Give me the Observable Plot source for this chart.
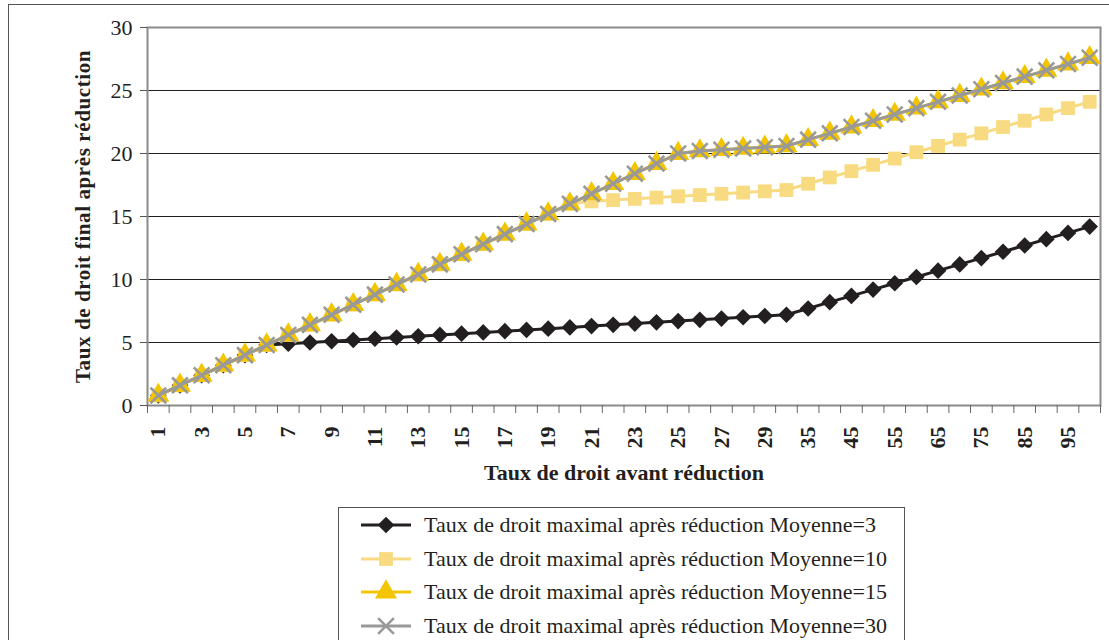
<!DOCTYPE html>
<html><head><meta charset="utf-8">
<script src="https://cdn.jsdelivr.net/npm/d3@7"></script>
<script src="https://cdn.jsdelivr.net/npm/@observablehq/plot@0.6"></script>
<style>
body{margin:0;background:#fff;font-family:"Liberation Serif",serif;color:#231f20;overflow:hidden;}
#frame{position:absolute;left:8px;top:4px;width:1120px;height:700px;border:1.5px solid #555;box-sizing:border-box;}
#chart{position:absolute;left:0;top:0;}
#legend{position:absolute;left:338px;top:507px;width:567px;height:140px;border:1px solid #555;box-sizing:border-box;background:#fff;}
.row{position:absolute;left:20px;height:30px;display:flex;align-items:center;font-size:22px;white-space:nowrap;}
.row svg{margin-right:13px;}
</style></head>
<body>
<div id="frame"></div>
<div id="chart"></div>
<div id="legend"></div>
<script>
const categories = [1,2,3,4,5,6,7,8,9,10,11,12,13,14,15,16,17,18,19,20,21,22,23,24,25,26,27,28,29,30,35,40,45,50,55,60,65,70,75,80,85,90,95,100];
const moy3  = [0.8,1.6,2.4,3.2,4.0,4.8,4.9,5.0,5.1,5.2,5.3,5.4,5.5,5.6,5.7,5.8,5.9,6.0,6.1,6.2,6.3,6.4,6.5,6.6,6.7,6.8,6.9,7.0,7.1,7.2,7.7,8.2,8.7,9.2,9.7,10.2,10.7,11.2,11.7,12.2,12.7,13.2,13.7,14.2];
const moy10 = [0.8,1.6,2.4,3.2,4.0,4.8,5.6,6.4,7.2,8.0,8.8,9.6,10.4,11.2,12.0,12.8,13.6,14.4,15.2,16.0,16.2,16.3,16.4,16.5,16.6,16.7,16.8,16.9,17.0,17.1,17.6,18.1,18.6,19.1,19.6,20.1,20.6,21.1,21.6,22.1,22.6,23.1,23.6,24.1];
const moy15 = [0.8,1.6,2.4,3.2,4.0,4.8,5.6,6.4,7.2,8.0,8.8,9.6,10.4,11.2,12.0,12.8,13.6,14.4,15.2,16.0,16.8,17.6,18.4,19.2,20.0,20.2,20.3,20.4,20.5,20.6,21.1,21.6,22.1,22.6,23.1,23.6,24.1,24.6,25.1,25.6,26.1,26.6,27.1,27.6];
const moy30 = [0.8,1.6,2.4,3.2,4.0,4.8,5.6,6.4,7.2,8.0,8.8,9.6,10.4,11.2,12.0,12.8,13.6,14.4,15.2,16.0,16.8,17.6,18.4,19.2,20.0,20.2,20.3,20.4,20.5,20.6,21.1,21.6,22.1,22.6,23.1,23.6,24.1,24.6,25.1,25.6,26.1,26.6,27.1,27.6];
const seriesNames = ["Taux de droit maximal après réduction Moyenne=3","Taux de droit maximal après réduction Moyenne=10","Taux de droit maximal après réduction Moyenne=15","Taux de droit maximal après réduction Moyenne=30"];
const yTicks = [0,5,10,15,20,25,30];
const gridValues = [5,10,15,20,25];

const ink = "#231f20";
const styles = [
  {values: moy3,  line: ink,       symbol: "diamond2", fill: ink,       stroke: "none",    r: 7.5, sw: 0},
  {values: moy10, line: "#f8db80", symbol: "square",   fill: "#f8db80", stroke: "none",    r: 7.8, sw: 0},
  {values: moy15, line: "#f3c500", symbol: "triangle", fill: "#f3c500", stroke: "none",    r: 8.2, sw: 0},
  {values: moy30, line: "#999999", symbol: "times",    fill: "none",    stroke: "#999999", r: 7.2, sw: 2.6}
];
const table = styles.map((s, k) => s.values.map((v, i) => ({pos: i + 0.5, v, cat: categories[i], k})));

const boundaries = d3.range(0, categories.length + 1);
const labelPos = categories.map((c, i) => i).filter(i => i % 2 === 0).map(i => i + 0.5);

const marks = [
  Plot.ruleY(gridValues, {stroke: ink, strokeWidth: 1}),
  Plot.frame({stroke: "#8a8a8a", strokeWidth: 2}),
  Plot.axisY({ticks: yTicks, tickSize: 7, tickPadding: 8, stroke: "#555", fontSize: 22, label: "Taux de droit final après réduction", labelAnchor: "center", labelArrow: "none", labelOffset: 72, fontWeight: "normal"}),
  Plot.axisX({ticks: boundaries, tickSize: 8, tickFormat: () => "", stroke: "#666", label: null}),
  Plot.axisX({ticks: labelPos, tickSize: 0, tickPadding: 21, tickRotate: -90, fontWeight: "bold", fontSize: 22,
              tickFormat: d => categories[Math.round(d - 0.5)], label: "Taux de droit avant réduction", labelAnchor: "center", labelArrow: "none", labelOffset: 74})
];
styles.forEach((s, k) => {
  marks.push(Plot.line(table[k], {x: "pos", y: "v", stroke: s.line, strokeWidth: 3}));
  marks.push(Plot.dot(table[k], {x: "pos", y: "v", symbol: () => s.symbol, r: s.r, fill: s.fill, stroke: s.stroke, strokeWidth: s.sw}));
});

const chart = Plot.plot({
  width: 1109, height: 500,
  marginLeft: 147, marginRight: 9, marginTop: 27, marginBottom: 95,
  style: {fontFamily: "Liberation Serif", fontSize: "22px", color: ink, background: "transparent", overflow: "visible"},
  x: {type: "linear", domain: [0, categories.length]},
  y: {domain: [0, 30]},
  symbol: {type: "identity"},
  marks
});
d3.select(chart).selectAll("g[aria-label='x-axis label'] text").attr("font-weight", "bold").attr("font-size", 22);
d3.select(chart).selectAll("g[aria-label='y-axis label'] text").attr("font-weight", "bold").attr("font-size", 21).attr("letter-spacing", "0.6px");
document.getElementById("chart").appendChild(chart);

// legend
const legend = d3.select("#legend");
const symbolGen = {diamond2: d3.symbolDiamond2, square: d3.symbolSquare, triangle: d3.symbolTriangle, times: d3.symbolTimes};
styles.forEach((s, k) => {
  const row = legend.append("div").attr("class", "row").style("top", (2 + k * 33.5) + "px");
  const svg = row.append("svg").attr("width", 52).attr("height", 30);
  svg.append("line").attr("x1", 2).attr("x2", 52).attr("y1", 15).attr("y2", 15).attr("stroke", s.line).attr("stroke-width", 3);
  svg.append("path").attr("transform", "translate(27,15)")
     .attr("d", d3.symbol(symbolGen[s.symbol], Math.PI * s.r * s.r)())
     .attr("fill", s.fill).attr("stroke", s.stroke).attr("stroke-width", s.sw);
  row.append("span").text(seriesNames[k]);
});
</script>
</body></html>
